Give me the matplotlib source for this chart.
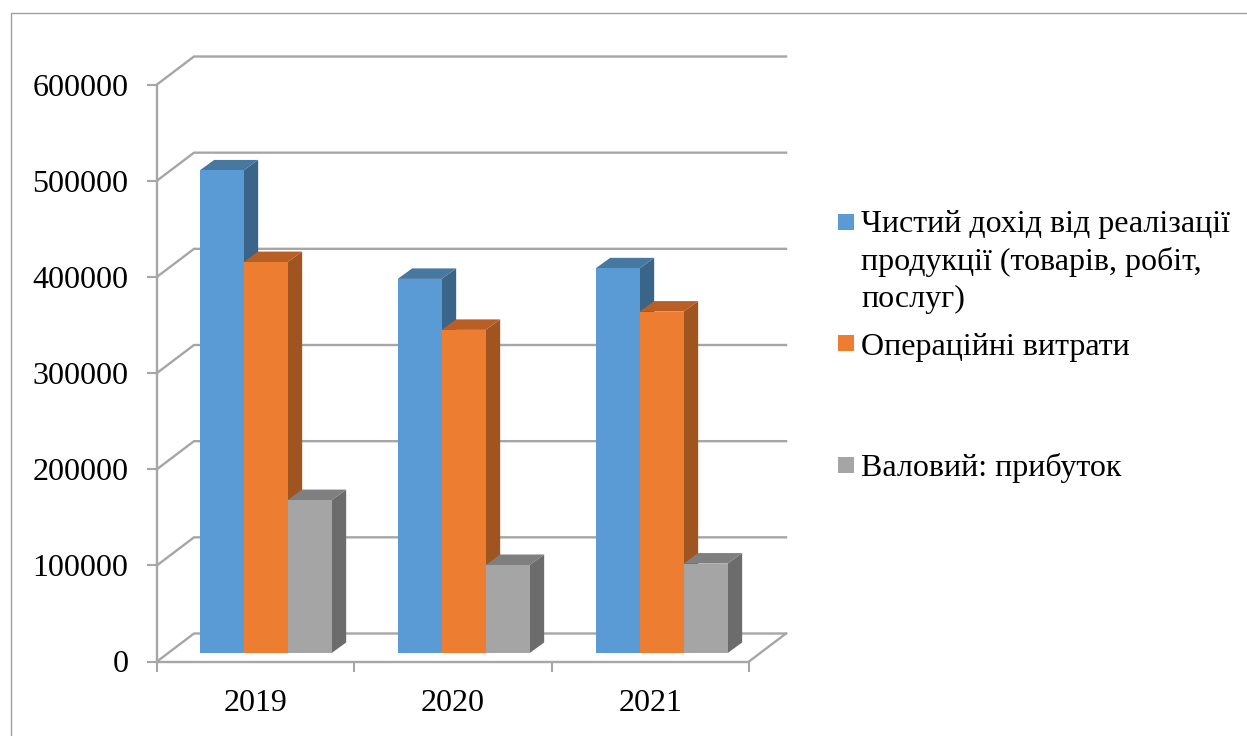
import matplotlib
matplotlib.use('Agg')
import matplotlib.pyplot as plt
from matplotlib.lines import Line2D
from matplotlib.patches import Rectangle

years = ['2019', '2020', '2021']
revenue = [501800, 389000, 400000]
expenses = [406500, 336000, 355000]
profit = [159000, 91500, 93000]
y_ticks = [0, 100000, 200000, 300000, 400000, 500000, 600000]
legend_lines = [
    ['Чистий дохід від реалізації', 'продукції (товарів, робіт,', 'послуг)'],
    ['Операційні витрати'],
    ['Валовий: прибуток'],
]

plt.rcParams['font.family'] = ['Liberation Serif', 'DejaVu Serif']

W, H = 1247, 736
GREY = '#a6a6a6'
fig = plt.figure(figsize=(W / 100, H / 100), dpi=100)
ax = fig.add_axes([157 / W, (H - 661.5) / H, 592 / W, 577 / H])
ax.set_xlim(0, 3)
ax.set_ylim(0, 600000)

# pixels to data units
ux = 3 / 592
uy = 600000 / 577

# back wall, left wall and floor
back_x = 37 * ux
back_y = 28 * uy
for v in y_ticks:
    ax.plot([0, back_x, 3 + back_x], [v, v + back_y, v + back_y], c=GREY, lw=1.7,
            clip_on=False, zorder=1, solid_joinstyle='miter')
ax.plot([3, 3 + back_x], [0, back_y], c=GREY, lw=1.7, clip_on=False, zorder=1)

# bars with their top and side faces
series = [
    (revenue, '#5b9bd5', '#47789f', '#3a6488'),
    (expenses, '#ed7d31', '#b95f25', '#a0541f'),
    (profit, '#a5a5a5', '#7f7f7f', '#6c6c6c'),
]
bar_w = 44 * ux
base = 8.5 * uy
shift = 10 * ux
step = 198 * ux
dx = 14.5 * ux
dy = 10.5 * uy
for i in range(len(years)):
    for j, (values, front, top, side) in enumerate(series):
        x0 = 0.5 + i * step + shift + (j - 1.5) * bar_w
        x1 = x0 + bar_w
        y1 = base + values[i]
        ax.fill([x1, x1 + dx, x1 + dx, x1], [base, base + dy, y1 + dy, y1],
                color=side, lw=0, clip_on=False, zorder=2)
        ax.fill([x0, x0 + dx, x1 + dx, x1], [y1, y1 + dy, y1 + dy, y1],
                color=top, lw=0, clip_on=False, zorder=2)
        ax.bar(x0, values[i], width=bar_w, bottom=base, align='edge', color=front,
               lw=0, clip_on=False, zorder=2)

# axes
ax.set_facecolor('none')
for name in ['top', 'right']:
    ax.spines[name].set_visible(False)
for name in ['left', 'bottom']:
    ax.spines[name].set_color(GREY)
    ax.spines[name].set_linewidth(1.7)
    ax.spines[name].set_zorder(1)
ax.set_yticks(y_ticks)
ax.set_yticklabels([str(v) for v in y_ticks])
ax.set_xticks([0, 1, 2, 3])
ax.set_xticklabels([])
ax.set_xticks([0.5, 1.5, 2.5], minor=True)
ax.set_xticklabels(years, minor=True)
ax.tick_params(axis='y', length=7.2, width=1.5, color=GREY, pad=13.5, labelsize=23)
ax.tick_params(axis='x', which='major', length=7.2, width=1.5, color=GREY)
ax.tick_params(axis='x', which='minor', length=0, pad=20, labelsize=23)

# legend, its rows are not evenly spaced in the original
marker_y = [214, 335, 457]
baselines = [[232, 270, 307], [355], [476]]
for lines, my, ys, (_, front, _, _) in zip(legend_lines, marker_y, baselines, series):
    fig.add_artist(Rectangle((838 / W, 1 - (my + 16) / H), 16 / W, 16 / H,
                             transform=fig.transFigure, color=front, lw=0))
    for line, y in zip(lines, ys):
        fig.text(861 / W, 1 - y / H, line, fontsize=23, va='baseline', color='black')

# chart frame
fig.add_artist(Line2D([11 / W, 11 / W, 1], [0, 1 - 13 / H, 1 - 13 / H],
                      transform=fig.transFigure, c='#a0a0a0', lw=1))

fig.savefig('out.png', dpi=100)
